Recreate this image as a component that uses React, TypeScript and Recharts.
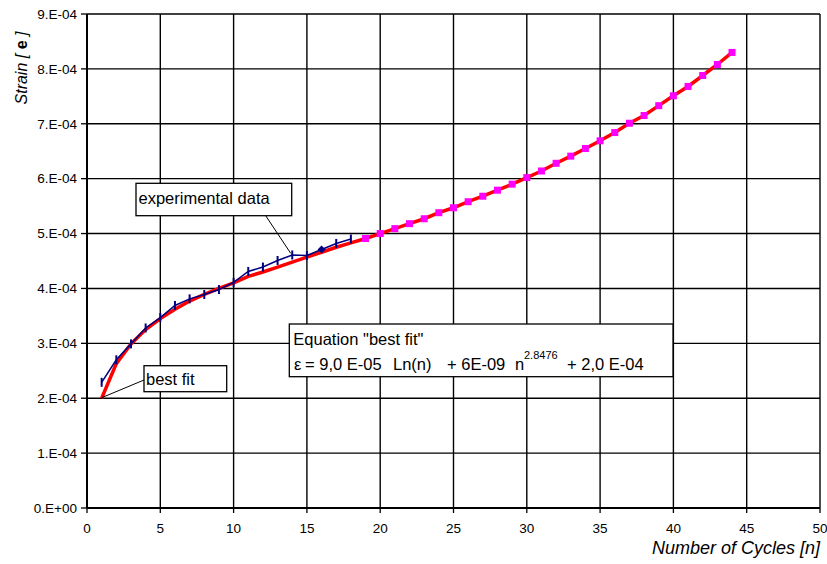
import React from "react";
import { ComposedChart, Line, XAxis, YAxis, CartesianGrid } from "recharts";

// number of cycles for each series
const expCycles = [1, 2, 3, 4, 5, 6, 7, 8, 9, 10, 11, 12, 13, 14, 15, 16, 17, 18];
const fitCycles = [
  1, 2, 3, 4, 5, 6, 7, 8, 9, 10, 11, 12, 13, 14, 15, 16, 17, 18, 19, 20, 21, 22,
  23, 24, 25, 26, 27, 28, 29, 30, 31, 32, 33, 34, 35, 36, 37, 38, 39, 40, 41, 42, 43, 44,
];

// strain, in units of 1E-04
const expStrain = [
  2.29, 2.7, 2.99, 3.28, 3.47, 3.69, 3.81, 3.89, 3.98, 4.11, 4.31, 4.39, 4.51, 4.61, 4.6, 4.71, 4.82, 4.9,
];
const fitStrain = [
  2.0, 2.63, 2.99, 3.25, 3.45, 3.62, 3.77, 3.89, 4.0, 4.1, 4.22, 4.3, 4.39, 4.48, 4.57, 4.66, 4.75, 4.83,
  4.91, 5.0, 5.09, 5.18, 5.27, 5.38, 5.47, 5.58, 5.68, 5.79, 5.9, 6.02, 6.14, 6.28, 6.41, 6.55, 6.69,
  6.84, 7.01, 7.15, 7.33, 7.51, 7.68, 7.88, 8.08, 8.3,
];

const xTicks = [0, 5, 10, 15, 20, 25, 30, 35, 40, 45, 50];
const yTicks = [0, 1e-4, 2e-4, 3e-4, 4e-4, 5e-4, 6e-4, 7e-4, 8e-4, 9e-4];
const yTickLabels = [
  "0.E+00", "1.E-04", "2.E-04", "3.E-04", "4.E-04", "5.E-04", "6.E-04", "7.E-04", "8.E-04", "9.E-04",
];

// fitted points get square markers from this cycle on
const FIT_MARKERS_FROM = 19;
const EXP_DIAMOND_AT = 16;

const expData = expCycles.map((n, i) => ({ n, strain: expStrain[i] * 1e-4 }));
const fitData = fitCycles.map((n, i) => ({ n, strain: fitStrain[i] * 1e-4 }));

const FONT = '"Liberation Sans", Arial, sans-serif';

function ExpDot(props: any) {
  const { cx, cy, payload, index } = props;
  if (payload.n === EXP_DIAMOND_AT) {
    return (
      <path
        key={index}
        d={`M${cx},${cy - 4} L${cx + 4},${cy} L${cx},${cy + 4} L${cx - 4},${cy} Z`}
        fill="#000080"
      />
    );
  }
  return <line key={index} x1={cx} x2={cx} y1={cy - 4.5} y2={cy + 4.5} stroke="#000080" strokeWidth={2} />;
}

function FitDot(props: any) {
  const { cx, cy, payload, index } = props;
  if (payload.n < FIT_MARKERS_FROM) return <g key={index} />;
  return <rect key={index} x={cx - 3.5} y={cy - 3.5} width={7} height={7} fill="#ff00ff" />;
}

function Overlay() {
  const txt = { fontFamily: FONT, fill: "#000" } as const;
  return (
    <svg
      width={827}
      height={564}
      style={{ position: "absolute", left: 0, top: 0, pointerEvents: "none" }}
    >
      {/* y axis title */}
      <text
        transform="translate(27,68) rotate(-90)"
        textAnchor="middle"
        fontSize={16}
        fontStyle="italic"
        {...txt}
      >
        Strain [ <tspan fontWeight="bold" fontStyle="normal">e</tspan> ]
      </text>
      {/* x axis title */}
      <text x={820} y={554} textAnchor="end" fontSize={18} fontStyle="italic" {...txt}>
        Number of Cycles [n]
      </text>

      {/* experimental data label */}
      <line x1={265.7} y1={215.7} x2={290.7} y2={253.3} stroke="#000" strokeWidth={1} />
      <rect x={136} y={183.3} width={155.7} height={32.4} fill="#fff" stroke="#000" strokeWidth={1.3} />
      <text x={138.5} y={203.5} fontSize={16.5} {...txt}>experimental data</text>

      {/* best fit label */}
      <line x1={144} y1={380} x2={101.7} y2={397.7} stroke="#000" strokeWidth={1} />
      <rect x={144} y={365.7} width={82.7} height={26} fill="#fff" stroke="#000" strokeWidth={1.3} />
      <text x={146} y={385} fontSize={16.5} {...txt}>best fit</text>

      {/* equation box */}
      <rect x={289.3} y={324} width={383.7} height={52.7} fill="#fff" stroke="#000" strokeWidth={1.3} />
      <text x={293.3} y={345} fontSize={16.5} {...txt}>Equation "best fit"</text>
      <text y={370} fontSize={16.5} {...txt}>
        <tspan x={294}>ε</tspan>
        <tspan x={305}>= 9,0 E-05</tspan>
        <tspan x={393}>Ln(n)</tspan>
        <tspan x={447}>+ 6E-09</tspan>
        <tspan x={515}>n</tspan>
        <tspan x={524} y={359} fontSize={11}>2.8476</tspan>
        <tspan x={567} y={370}>+ 2,0 E-04</tspan>
      </text>
    </svg>
  );
}

export default function App() {
  return (
    <div style={{ position: "absolute", left: 0, top: 0, width: 827, height: 564, background: "#fff" }}>
      <ComposedChart
        width={827}
        height={564}
        margin={{ top: 14, right: 7, bottom: 26, left: 0 }}
      >
        <CartesianGrid stroke="#000" strokeWidth={1.4} />
        <XAxis
          type="number"
          dataKey="n"
          domain={[0, 50]}
          ticks={xTicks}
          height={30}
          allowDuplicatedCategory={false}
          axisLine={{ stroke: "#000", strokeWidth: 2 }}
          tickLine={{ stroke: "#000", strokeWidth: 1.3 }}
          tickSize={5}
          tickMargin={10}
          tick={{ fontSize: 13.5, fill: "#000", fontFamily: FONT }}
        />
        <YAxis
          type="number"
          dataKey="strain"
          domain={[0, 9e-4]}
          ticks={yTicks}
          width={87}
          axisLine={{ stroke: "#000", strokeWidth: 2 }}
          tickLine={{ stroke: "#000", strokeWidth: 1.3 }}
          tickSize={6}
          tickMargin={4}
          tickFormatter={(_v: number, i: number) => yTickLabels[i]}
          tick={{ fontSize: 13.5, fill: "#000", fontFamily: FONT }}
        />
        <Line
          data={fitData}
          dataKey="strain"
          type="linear"
          stroke="#ff0000"
          strokeWidth={3.5}
          dot={FitDot}
          activeDot={false}
          isAnimationActive={false}
        />
        <Line
          data={expData}
          dataKey="strain"
          type="linear"
          stroke="#000080"
          strokeWidth={1.5}
          dot={ExpDot}
          activeDot={false}
          isAnimationActive={false}
        />
      </ComposedChart>
      <Overlay />
    </div>
  );
}
